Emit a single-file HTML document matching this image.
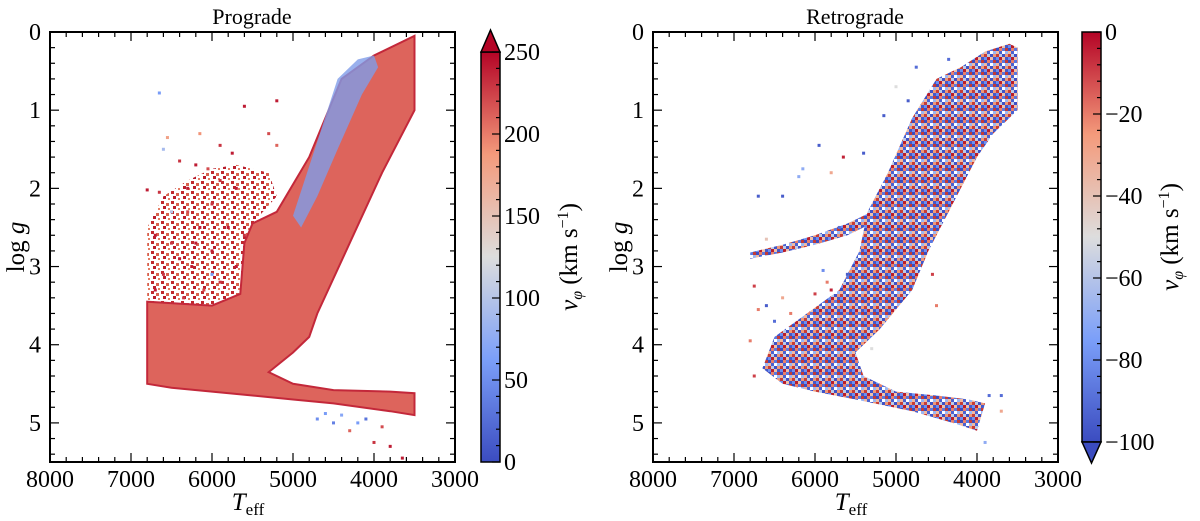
<!DOCTYPE html>
<html><head><meta charset="utf-8"><style>
body{margin:0;background:#fff;}
svg{display:block;font-family:"Liberation Serif",serif;}
</style></head><body>
<svg id="fig" width="1200" height="521" viewBox="0 0 1200 521">
<defs>
<linearGradient id="cmapProg" x1="0" y1="1" x2="0" y2="0">
<stop offset="0" stop-color="#3b4cc0"/><stop offset="0.25" stop-color="#7b9ff9"/><stop offset="0.5" stop-color="#dddddd"/><stop offset="0.75" stop-color="#f49a7b"/><stop offset="1" stop-color="#b40426"/>
</linearGradient>
<pattern id="speckle" width="12" height="12" patternUnits="userSpaceOnUse">
<rect width="12" height="12" fill="#ffffff"/>
<rect x="0" y="0" width="3" height="3" fill="#3b4cc0"/><rect x="3" y="0" width="3" height="3" fill="#e8806a"/><rect x="6" y="0" width="3" height="3" fill="#5a78e0"/><rect x="9" y="0" width="3" height="3" fill="#c33a36"/>
<rect x="0" y="3" width="3" height="3" fill="#f1b9a0"/><rect x="3" y="3" width="3" height="3" fill="#4a62d2"/><rect x="9" y="3" width="3" height="3" fill="#9ab6f5"/>
<rect x="0" y="6" width="3" height="3" fill="#c63c38"/><rect x="3" y="6" width="3" height="3" fill="#bccbe8"/><rect x="6" y="6" width="3" height="3" fill="#3f52c6"/><rect x="9" y="6" width="3" height="3" fill="#ee9878"/>
<rect x="0" y="9" width="3" height="3" fill="#6e8fee"/><rect x="3" y="9" width="3" height="3" fill="#b81d2c"/><rect x="6" y="9" width="3" height="3" fill="#f0c0aa"/><rect x="9" y="9" width="3" height="3" fill="#4358cb"/>
</pattern>
<pattern id="redcloud" width="10" height="10" patternUnits="userSpaceOnUse">
<rect width="10" height="10" fill="#ffffff"/>
<rect x="1" y="1" width="3" height="3" fill="#c0282f"/><rect x="6" y="3" width="3" height="3" fill="#d9604c"/>
<rect x="3" y="6" width="3" height="3" fill="#b81d2c"/><rect x="8" y="8" width="2" height="2" fill="#e47c63"/>
</pattern>
</defs>
</svg>
<script>
// ---- data (Teff, log g, v_phi) ----
const progMainT=[6800,6800,6000,5650,5600,5500,5200,4800,4400,4000,3500,3500,3900,4300,4700,4800,5000,5300,5000,4500,3800,3500,3500,3800,4500,5000,5500,6000,6500];
const progMainG=[4.5,3.45,3.5,3.35,2.7,2.45,2.3,1.6,0.6,0.3,0.05,1.0,1.8,2.7,3.6,3.9,4.1,4.35,4.5,4.58,4.6,4.62,4.9,4.85,4.75,4.7,4.65,4.6,4.55];
const progBlueT=[5000,4700,4450,4200,4000,3950,4150,4450,4700,4900];
const progBlueG=[2.35,1.4,0.6,0.35,0.3,0.45,0.8,1.5,2.1,2.5];
const progCloudT=[6800,6800,6600,6300,6000,5700,5300,5200,5500,5650,6000];
const progCloudG=[3.45,2.5,2.1,1.9,1.75,1.7,1.8,2.1,2.45,3.35,3.5];
const progPtT=[6650,5600,5200,6550,6600,6150,5900,5300,5200,6400,6200,6050,5750,6800,6650,6300,6500,6000,5900,6300,6150,6700,6500,6400,6600,6250,6000,5900,6100,5800,5700,6700,6350,5600,5700,6000,6200,4000,3800,3650,4300,4500,4200,4700,4100,4400,4600,3900];
const progPtG=[0.78,0.95,0.88,1.35,1.5,1.3,1.45,1.3,1.45,1.65,1.7,1.75,1.55,2.02,2.05,2.0,2.3,2.2,1.9,2.3,2.5,2.6,2.7,2.9,3.1,3.0,2.8,3.2,3.3,2.5,2.0,3.3,3.4,2.6,3.0,3.1,2.7,5.25,5.3,5.45,5.1,5.0,5.0,4.95,4.95,4.9,4.88,5.05];
const progPtV=[60,240,240,180,90,190,230,220,210,230,240,220,240,240,230,240,100,230,230,220,240,240,230,240,230,240,240,230,220,240,240,240,230,230,240,60,240,230,240,240,210,40,60,50,30,70,60,220];
const retroMainT=[4500,4200,3900,3600,3500,3500,3800,4000,4300,4600,4800,5200,5500,5400,5000,4500,4100,3900,4000,4300,4800,5500,6000,6400,6650,6500,6100,5700,5450,5350,5100,4800];
const retroMainG=[0.6,0.45,0.25,0.15,0.2,1.0,1.3,1.6,2.2,2.8,3.3,3.8,4.1,4.4,4.6,4.65,4.7,4.75,5.1,5.0,4.85,4.7,4.6,4.5,4.3,3.9,3.6,3.3,2.8,2.3,1.8,1.1];
const retroHBT=[6800,6400,6000,5600,5300,5300,5600,6000,6400,6800];
const retroHBG=[2.82,2.72,2.6,2.45,2.3,2.45,2.6,2.72,2.82,2.9];
const retroPtT=[4750,4350,5000,4850,5150,5950,5650,5400,6150,6200,5800,6700,6400,5700,6600,6750,6700,6400,6600,6000,5800,5600,5850,4500,4550,3700,3850,3700,3900,6750,6800,5300,6500,6300,5900];
const retroPtG=[0.45,0.35,0.7,0.88,1.07,1.45,1.6,1.55,1.75,1.85,1.8,2.1,2.1,2.5,2.65,3.25,3.55,3.4,3.5,3.35,3.3,3.1,3.2,3.5,3.1,4.65,4.65,4.85,5.25,4.4,3.95,4.05,3.7,3.6,3.05];
const retroPtV=[-90,-90,-50,-95,-95,-95,-5,-95,-70,-70,-30,-95,-95,-90,-40,-10,-20,-30,-95,-10,-5,-95,-20,-20,-10,-90,-90,-30,-70,-10,-20,-50,-90,-20,-80];
const xTicks=[8000,7000,6000,5000,4000,3000];
const yTicks=[0,1,2,3,4,5];
const progCbTicks=[0,50,100,150,200,250];
const retroCbTicks=[0,-20,-40,-60,-80,-100];

const NS="http://www.w3.org/2000/svg";
const svg=document.getElementById('fig');
function el(tag,attrs,parent){const e=document.createElementNS(NS,tag);for(const k in attrs)e.setAttribute(k,attrs[k]);(parent||svg).appendChild(e);return e;}
const stops=[[0,[59,76,192]],[0.25,[123,159,249]],[0.5,[221,221,221]],[0.75,[244,154,123]],[1,[180,4,38]]];
function cm(t){t=Math.max(0,Math.min(1,t));for(let i=0;i<stops.length-1;i++){const a=stops[i],b=stops[i+1];if(t<=b[0]){const f=(t-a[0])/(b[0]-a[0]);const c=a[1].map((v,j)=>Math.round(v+(b[1][j]-v)*f));return `rgb(${c[0]},${c[1]},${c[2]})`;}}return 'rgb(180,4,38)';}
const Y0=32,Y1=462;
function makeAxes(x0){return{x:T=>x0+(8000-T)/5000*405,y:g=>Y0+g/5.5*(Y1-Y0),x0:x0,x1:x0+405};}
function poly(ax,Ts,Gs,attrs,name){const p=el('polygon',Object.assign({points:Ts.map((t,i)=>ax.x(t).toFixed(1)+','+ax.y(Gs[i]).toFixed(1)).join(' ')},attrs));return p;}
function frame(ax,title,name){
  const g=el('g',{});
  el('rect',{x:ax.x0,y:Y0,width:405,height:Y1-Y0,fill:'none',stroke:'#000','stroke-width':2},g);
  for(let T=3000;T<=8000;T+=200){const X=ax.x(T),maj=T%1000===0,L=maj?9:5;
    el('line',{x1:X,y1:Y1,x2:X,y2:Y1-L,stroke:'#000','stroke-width':1.2},g);el('line',{x1:X,y1:Y0,x2:X,y2:Y0+L,stroke:'#000','stroke-width':1.2},g);}
  for(let k=0;k<=27;k++){const gv=k*0.2,Yp=ax.y(gv),maj=k%5===0,L=maj?9:5;
    el('line',{x1:ax.x0,y1:Yp,x2:ax.x0+L,y2:Yp,stroke:'#000','stroke-width':1.2},g);el('line',{x1:ax.x1,y1:Yp,x2:ax.x1-L,y2:Yp,stroke:'#000','stroke-width':1.2},g);}
  xTicks.forEach(T=>{const t=el('text',{x:ax.x(T),y:Y1+25,'font-size':24,'text-anchor':'middle'},g);t.textContent=T;});
  yTicks.forEach(v=>{const t=el('text',{x:ax.x0-9,y:ax.y(v)+8,'font-size':24,'text-anchor':'end'},g);t.textContent=v;});
  const tt=el('text',{x:ax.x0+202,y:24,'font-size':22,'text-anchor':'middle'},g);tt.textContent=title;
  const xl=el('text',{x:ax.x0+198,y:510,'font-size':25,'text-anchor':'middle'},g);xl.innerHTML='<tspan font-style="italic">T</tspan><tspan font-size="17" dy="5">eff</tspan>';
  const yl=el('text',{x:0,y:0,'font-size':25,'text-anchor':'middle',transform:`translate(${ax.x0-26},${ax.y(2.75)}) rotate(-90)`},g);yl.innerHTML='log <tspan font-style="italic">g</tspan>';
}
function dots(ax,Ts,Gs,Vs,norm,name){Ts.forEach((T,i)=>{const c=el('rect',{x:ax.x(T)-1.5,y:ax.y(Gs[i])-1.5,width:3,height:3,fill:cm(norm(Vs[i]))});});}
function colorbar(x,top,bot,ticks,vmin,vmax,triTop,name,lx){
  const g=el('g',{});
  el('rect',{x:x,y:top,width:19,height:bot-top,fill:'url(#cmapProg)',stroke:'#000','stroke-width':1.5},g);
  if(triTop)el('polygon',{points:`${x},${top} ${x+9.5},${top-22} ${x+19},${top}`,fill:'#b40426',stroke:'#000','stroke-width':1.5},g);
  else el('polygon',{points:`${x},${bot} ${x+9.5},${bot+21} ${x+19},${bot}`,fill:'#3b4cc0',stroke:'#000','stroke-width':1.5},g);
  const sc=v=>bot-(v-vmin)/(vmax-vmin)*(bot-top);
  const step=(vmax-vmin)/25;
  for(let k=0;k<=25;k++){const v=vmin+k*step,Yp=sc(v),maj=k%5===0;el('line',{x1:x+19,y1:Yp,x2:x+19-(maj?8:4),y2:Yp,stroke:'#000','stroke-width':1.2},g);}
  ticks.forEach(v=>{const t=el('text',{x:x+23,y:sc(v)+8,'font-size':24},g);t.textContent=v<0?'\u2212'+(-v):v;});
  const l=el('text',{x:0,y:0,'font-size':25,'text-anchor':'middle',transform:`translate(${lx},${(top+bot)/2}) rotate(-90)`},g);
  l.innerHTML='<tspan font-style="italic">v</tspan><tspan font-size="16" dy="5" font-style="italic">φ</tspan><tspan dy="-5"> (km s</tspan><tspan font-size="16" dy="-9">−1</tspan><tspan dy="9">)</tspan>';
  
}
// Left panel
const L=makeAxes(50);
const pnorm=v=>v/250;
poly(L,progCloudT,progCloudG,{fill:'url(#redcloud)'},'prograde-scatter-cloud');
poly(L,progMainT,progMainG,{fill:cm(pnorm(210)),stroke:cm(pnorm(235)),'stroke-width':2},'prograde-density-region');
poly(L,progBlueT,progBlueG,{fill:'#7f9ce8','fill-opacity':0.8},'prograde-low-vphi-strip');
dots(L,progPtT,progPtG,progPtV,pnorm,'prograde-star');
frame(L,'Prograde','prograde-axes');
colorbar(481,52,462,progCbTicks,0,250,true,'prograde-colorbar',577);
// Right panel
const R=makeAxes(653);
const rnorm=v=>(v+100)/100;
poly(R,retroMainT,retroMainG,{fill:'url(#speckle)'},'retrograde-density-region');
poly(R,retroHBT,retroHBG,{fill:'url(#speckle)'},'retrograde-horizontal-branch');
dots(R,retroPtT,retroPtG,retroPtV,rnorm,'retrograde-star');
frame(R,'Retrograde','retrograde-axes');
colorbar(1082,32,442,retroCbTicks,-100,0,false,'retrograde-colorbar',1178);
</script>
</body></html>
